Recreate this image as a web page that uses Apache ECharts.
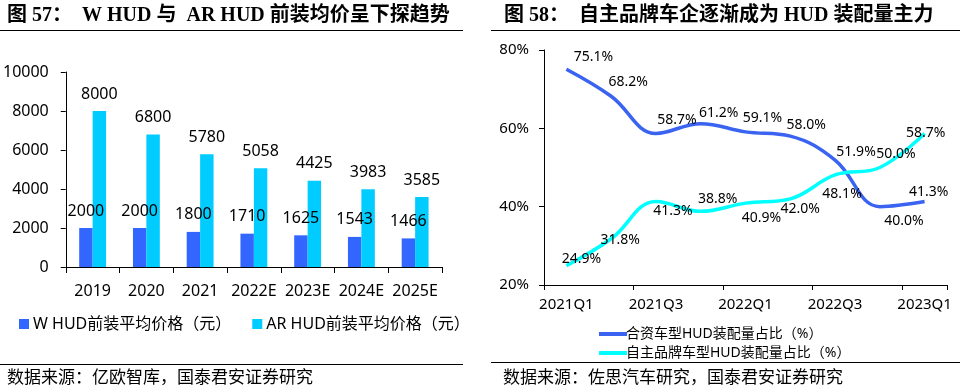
<!DOCTYPE html>
<html>
<head>
<meta charset="utf-8">
<style>
html,body{margin:0;padding:0;background:#fff;}
#c{width:973px;height:392px;}
</style>
<script src="https://cdn.jsdelivr.net/npm/echarts@6/dist/echarts.min.js"></script>
</head>
<body>
<div id="c"></div>
<script>
// ---- Data ----
const barCategories = ['2019', '2020', '2021', '2022E', '2023E', '2024E', '2025E'];
const wHudPrice = [2000, 2000, 1800, 1710, 1625, 1543, 1466];
const arHudPrice = [8000, 6800, 5780, 5058, 4425, 3983, 3585];
const barSeriesNames = ['W HUD前装平均价格（元）', 'AR HUD前装平均价格（元）'];

const quarters = ['2021Q1', '2021Q2', '2021Q3', '2021Q4', '2022Q1', '2022Q2', '2022Q3', '2022Q4', '2023Q1'];
const jvShare = [75.1, 68.2, 58.7, 61.2, 59.1, 58.0, 51.9, 40.0, 41.3];
const domesticShare = [24.9, 31.8, 41.3, 38.8, 40.9, 42.0, 48.1, 50.0, 58.7];
const lineSeriesNames = ['合资车型HUD装配量占比（%）', '自主品牌车型HUD装配量占比（%）'];

const leftTitle = '图 57：  W HUD 与  AR HUD 前装均价呈下探趋势';
const rightTitle = '图 58：  自主品牌车企逐渐成为 HUD 装配量主力';
const leftSource = '数据来源：亿欧智库，国泰君安证券研究';
const rightSource = '数据来源：佐思汽车研究，国泰君安证券研究';

// label placement (style only): offsets from each point
const jvLabelOffsets = [[27,-12],[17,-14],[21,-13],[18,-11],[17,-14],[16,-11],[21,-8],[24,14],[4,-10]];
const domLabelOffsets = [[15,-7],[9,1],[17,9],[17,-12],[16,15],[10,10],[7,19],[16,-13],[1,0]];

const BAR_COLORS = ['#3366FF', '#00CCFF'];
const LINE_COLORS = ['#3A63F2', '#00FFFF'];

const SANS = '"Noto Sans", "Noto Sans CJK SC", sans-serif';
const SERIF = '"Liberation Serif", "Noto Sans CJK SC", serif';

function lineData(values, offsets) {
  return values.map((v, i) => ({
    value: v,
    label: { position: 'inside', offset: offsets[i] }
  }));
}

const chart = echarts.init(document.getElementById('c'), null, { renderer: 'canvas' });

const axisLineStyle = { show: true, lineStyle: { color: '#000', width: 1 } };

chart.setOption({
  animation: false,
  backgroundColor: '#fff',
  textStyle: { fontFamily: SANS, color: '#000' },
  grid: [
    { left: 64, top: 72, width: 378, height: 195 },
    { left: 544, top: 50, width: 403, height: 235 }
  ],
  xAxis: [
    {
      type: 'category', gridIndex: 0, data: barCategories,
      axisLine: axisLineStyle,
      axisTick: { show: true, length: 6, lineStyle: { color: '#000' } },
      axisLabel: { color: '#000', fontSize: 16, margin: 16, fontFamily: SANS, interval: 0 }
    },
    {
      type: 'category', gridIndex: 1, data: quarters, boundaryGap: true,
      axisLine: axisLineStyle,
      axisTick: { show: true, length: 5, interval: 1, lineStyle: { color: '#000' } },
      axisLabel: { color: '#000', fontSize: 15, margin: 12, fontFamily: SANS, interval: 1 }
    }
  ],
  yAxis: [
    {
      type: 'value', gridIndex: 0, min: 0, max: 10000, interval: 2000,
      axisLine: axisLineStyle,
      axisTick: { show: true, length: 5, lineStyle: { color: '#000' } },
      splitLine: { show: false },
      axisLabel: { color: '#000', fontSize: 16, margin: 17, fontFamily: SANS,
        formatter: v => String(v) }
    },
    {
      type: 'value', gridIndex: 1, min: 20, max: 80, interval: 20,
      axisLine: axisLineStyle,
      axisTick: { show: true, length: 5, lineStyle: { color: '#000' } },
      splitLine: { show: false },
      axisLabel: { color: '#000', fontSize: 15, margin: 15, fontFamily: SANS, formatter: '{value}%' }
    }
  ],
  legend: [
    {
      data: barSeriesNames.map((n, i) => ({ name: n, itemStyle: { color: BAR_COLORS[i] } })),
      left: 14, top: 311, icon: 'rect', itemWidth: 10, itemHeight: 10,
      itemGap: 21,
      textStyle: { fontSize: 16, color: '#000', fontFamily: SANS, padding: [0, 0, 0, -1] }
    },
    {
      data: lineSeriesNames.map((n, i) => ({ name: n, icon: 'rect', itemStyle: { color: LINE_COLORS[i], opacity: 1 } })),
      left: 594, top: 322, orient: 'vertical', icon: 'rect',
      itemWidth: 28, itemHeight: 4, itemGap: 5,
      textStyle: { fontSize: 14, color: '#000', fontFamily: SANS, padding: [0, 0, 0, -6] }
    }
  ],
  series: [
    {
      name: barSeriesNames[0], type: 'bar', xAxisIndex: 0, yAxisIndex: 0,
      data: wHudPrice, barWidth: '25%', barGap: '0%',
      itemStyle: { color: BAR_COLORS[0] },
      label: { show: true, position: 'top', distance: 9, fontSize: 16, color: '#000', fontFamily: SANS }
    },
    {
      name: barSeriesNames[1], type: 'bar', xAxisIndex: 0, yAxisIndex: 0,
      data: arHudPrice, barWidth: '25%', barGap: '0%',
      itemStyle: { color: BAR_COLORS[1] },
      label: { show: true, position: 'top', distance: 9, fontSize: 16, color: '#000', fontFamily: SANS }
    },
    {
      name: lineSeriesNames[0], type: 'line', xAxisIndex: 1, yAxisIndex: 1,
      data: lineData(jvShare, jvLabelOffsets), smooth: 0.4,
      symbol: 'circle', symbolSize: 2, showSymbol: true,
      itemStyle: { color: 'rgba(0,0,0,0)', borderWidth: 0 },
      lineStyle: { color: LINE_COLORS[0], width: 3.5 },
      label: { show: true, fontSize: 14, color: '#000', fontFamily: SANS,
        formatter: p => p.value.toFixed(1) + '%' }
    },
    {
      name: lineSeriesNames[1], type: 'line', xAxisIndex: 1, yAxisIndex: 1,
      data: lineData(domesticShare, domLabelOffsets), smooth: 0.4,
      symbol: 'circle', symbolSize: 2, showSymbol: true,
      itemStyle: { color: 'rgba(0,0,0,0)', borderWidth: 0 },
      lineStyle: { color: LINE_COLORS[1], width: 3.5 },
      label: { show: true, fontSize: 14, color: '#000', fontFamily: SANS,
        formatter: p => p.value.toFixed(1) + '%' }
    }
  ],
  graphic: [
    { type: 'text', left: 7, top: 6, style: { text: leftTitle, font: 'bold 20px ' + SERIF, fill: '#000' } },
    { type: 'text', left: 504, top: 6, style: { text: rightTitle, font: 'bold 20px ' + SERIF, fill: '#000' } },
    { type: 'line', shape: { x1: 0, y1: 30.5, x2: 463, y2: 30.5 }, style: { stroke: '#000', lineWidth: 1.2 } },
    { type: 'line', shape: { x1: 491, y1: 30.5, x2: 960, y2: 30.5 }, style: { stroke: '#000', lineWidth: 1.2 } },
    { type: 'line', shape: { x1: 0, y1: 364.5, x2: 463, y2: 364.5 }, style: { stroke: '#000', lineWidth: 1.2 } },
    { type: 'line', shape: { x1: 491, y1: 362.5, x2: 960, y2: 362.5 }, style: { stroke: '#000', lineWidth: 1.2 } },
    { type: 'text', left: 7, top: 370, style: { text: leftSource, font: '17px ' + SANS, fill: '#000' } },
    { type: 'text', left: 503, top: 370, style: { text: rightSource, font: '17px ' + SANS, fill: '#000' } }
  ]
});
</script>
</body>
</html>
